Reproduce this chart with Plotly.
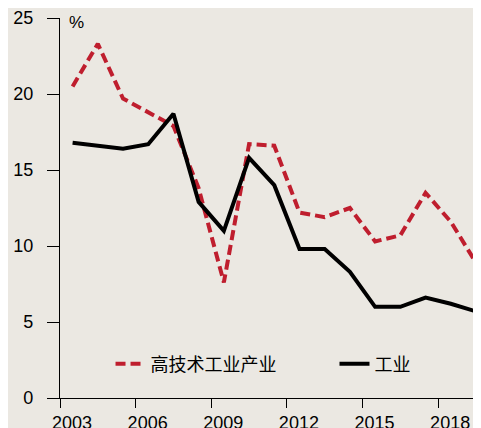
import plotly.graph_objects as go

years = [2003, 2004, 2005, 2006, 2007, 2008, 2009, 2010, 2011, 2012,
         2013, 2014, 2015, 2016, 2017, 2018, 2019]
high_tech = [20.5, 23.3, 19.7, 18.8, 17.9, 13.8, 7.6, 16.7, 16.6, 12.2,
             11.9, 12.5, 10.3, 10.7, 13.5, 11.6, 8.9]
industry = [16.8, 16.6, 16.4, 16.7, 18.7, 12.9, 11.0, 15.8, 14.0, 9.8,
            9.8, 8.3, 6.0, 6.0, 6.6, 6.2, 5.7]
x_ticks = [2003, 2006, 2009, 2012, 2015, 2018]
y_ticks = [0, 5, 10, 15, 20, 25]
names = ["高技术工业产业", "工业"]

mid = [y + 0.5 for y in years]  # annual values plotted at mid-year

BG = "#EBE8E2"
RED = "#BF1E2E"
FONT = "Liberation Sans, Arial, Noto Sans CJK SC, sans-serif"

fig = go.Figure()
fig.add_trace(go.Scatter(x=mid, y=high_tech, mode="lines", name=names[0], legend="legend",
                         line=dict(color=RED, width=4, dash="10px,5px")))
fig.add_trace(go.Scatter(x=mid, y=industry, mode="lines", name=names[1], legend="legend2",
                         line=dict(color="black", width=4)))

leg_common = dict(orientation="h", yanchor="middle", xanchor="left",
                  bgcolor="rgba(0,0,0,0)", font=dict(size=18), borderwidth=0)

fig.update_layout(
    width=473, height=420,
    margin=dict(l=52, r=0, t=10, b=30, pad=0, autoexpand=False),
    paper_bgcolor=BG, plot_bgcolor=BG,
    font=dict(family=FONT, size=18, color="black"),
    showlegend=True,
    legend=dict(x=0.12, y=0.0895, **leg_common),
    legend2=dict(x=0.652, y=0.0895, **leg_common),
    xaxis=dict(range=[2003, 2019.7], tickvals=x_ticks, ticktext=[str(t) for t in x_ticks],
               showgrid=False, zeroline=False, showline=True, linecolor="black", linewidth=1.3,
               ticks="outside", ticklen=9, tickwidth=1.3, tickcolor="black", automargin=False,
               ticklabelshift=12, ticklabelstandoff=-1),
    yaxis=dict(range=[0, 25], tickvals=y_ticks, showgrid=False, zeroline=False,
               showline=True, linecolor="black", linewidth=1.3,
               ticks="outside", ticklen=12, tickwidth=1.3, tickcolor="black", automargin=False,
               ticklabelstandoff=10),
    annotations=[dict(text="%", xref="paper", yref="paper", x=0.016, y=0.988,
                      xanchor="left", yanchor="middle", showarrow=False,
                      font=dict(size=17))],
)

fig.write_html("out.html")
